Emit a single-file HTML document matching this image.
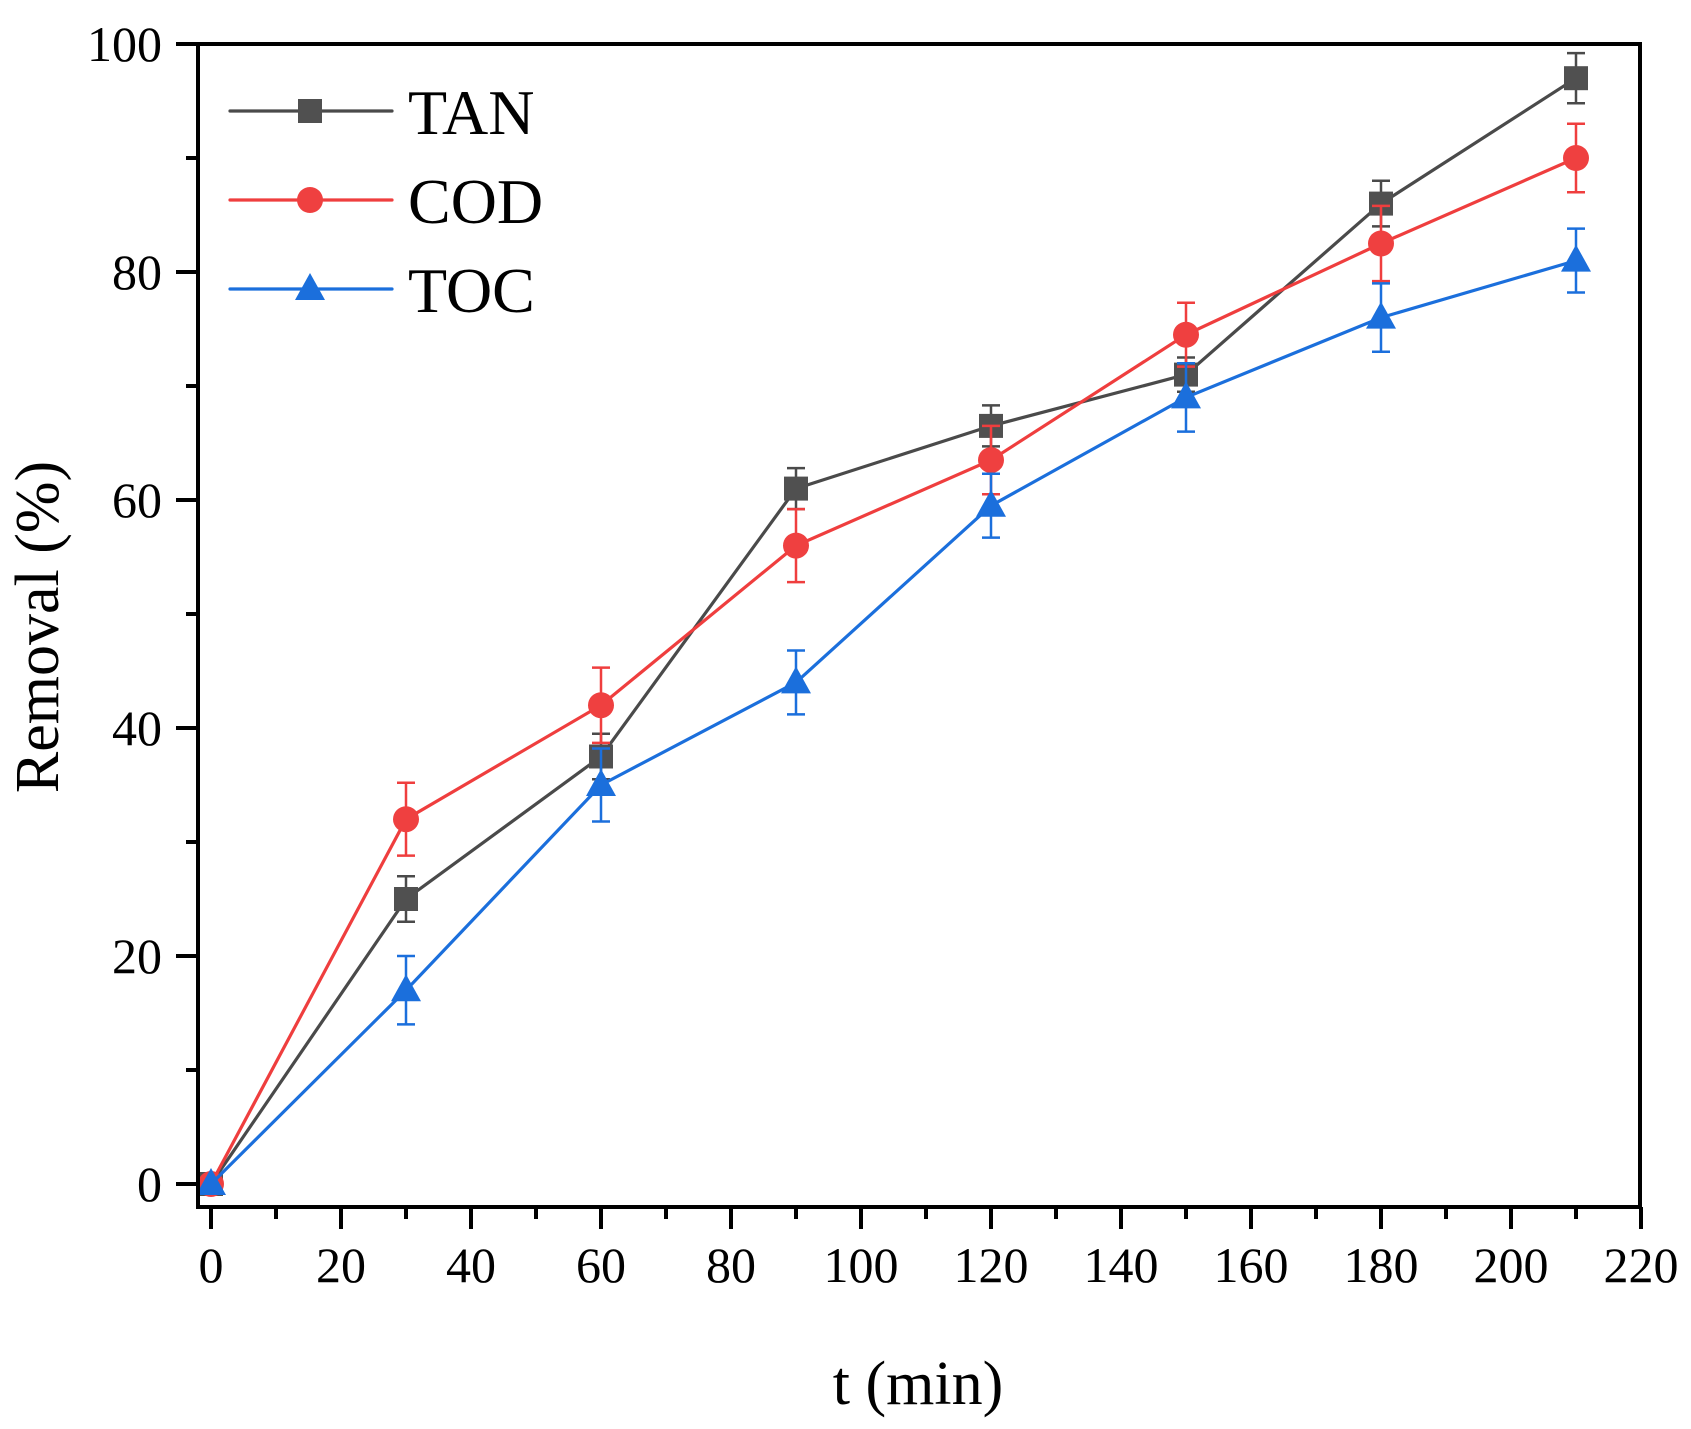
<!DOCTYPE html>
<html><head><meta charset="utf-8"><style>
html,body{margin:0;padding:0;background:#fff;}
svg{display:block;font-family:"Liberation Serif",serif;}
</style></head><body>
<svg id="chart" width="1691" height="1429" viewBox="0 0 1691 1429" xmlns="http://www.w3.org/2000/svg"></svg>
<script>
const times = [0,30,60,90,120,150,180,210];
const tanValues = [0,25,37.5,61,66.5,71,86,97];
const tanErrors = [0,2,2,1.8,1.8,1.5,2,2.2];
const codValues = [0,32,42,56,63.5,74.5,82.5,90];
const codErrors = [0,3.2,3.3,3.2,3,2.8,3.3,3];
const tocValues = [0,17,35,44,59.5,69,76,81];
const tocErrors = [0,3,3.2,2.8,2.8,3,3,2.8];
const xTickLabels = [0,20,40,60,80,100,120,140,160,180,200,220];
const yTickLabels = [0,20,40,60,80,100];

const L=198,R=1640,T=44,B=1207;
const X0=211, XS=6.5, Y0=1184, YS=11.4;
const sx=v=>X0+v*XS, sy=v=>Y0-v*YS;
const svg=document.getElementById('chart');
const NS='http://www.w3.org/2000/svg';
function mk(tag,attrs,parent){const e=document.createElementNS(NS,tag);for(const k in attrs)e.setAttribute(k,attrs[k]);(parent||svg).appendChild(e);return e;}

// ticks
for(let v=0;v<=220;v+=10){
  const major=v%20===0;
  const t=mk('line',{x1:sx(v),x2:sx(v),y1:B,y2:B+(major?22:12),stroke:'#000','stroke-width':4});
  
  
}
for(let v=0;v<=100;v+=10){
  const major=v%20===0;
  const t=mk('line',{x1:L-(major?22:12),x2:L,y1:sy(v),y2:sy(v),stroke:'#000','stroke-width':4});
  
  
}
xTickLabels.forEach(v=>{
  const t=mk('text',{x:sx(v),y:1282,'font-size':50,'text-anchor':'middle',fill:'#000'});
  t.textContent=v;
  
  
});
yTickLabels.forEach(v=>{
  const t=mk('text',{x:162,y:sy(v)+17,'font-size':50,'text-anchor':'end',fill:'#000'});
  t.textContent=v;
  
  
});

const series=[
  {name:'TAN',vals:tanValues,errs:tanErrors,color:'#4a4a4a',mcolor:'#505050',shape:'square'},
  {name:'COD',vals:codValues,errs:codErrors,color:'#ef3e3e',mcolor:'#ef4040',shape:'circle'},
  {name:'TOC',vals:tocValues,errs:tocErrors,color:'#1b6fdc',mcolor:'#1b6fdc',shape:'triangle'}
];
function marker(shape,x,y,color,g){
  let m;
  if(shape==='square') m=mk('rect',{x:x-12,y:y-12,width:24,height:24,fill:color},g);
  else if(shape==='circle') m=mk('circle',{cx:x,cy:y,r:13,fill:color},g);
  else m=mk('polygon',{points:`${x},${y-16} ${x+15},${y+11} ${x-15},${y+11}`,fill:color},g);
  return m;
}
series.forEach(s=>{
  const g=mk('g',{});
  
  
  s.vals.forEach((v,i)=>{
    const e=s.errs[i]; if(!e) return;
    const x=sx(times[i]);
    const eb=mk('path',{d:`M${x},${sy(v-e)}V${sy(v+e)}M${x-9},${sy(v+e)}H${x+9}M${x-9},${sy(v-e)}H${x+9}`,stroke:s.color,'stroke-width':2.5,fill:'none'},g);
    
    
  });
  const pl=mk('polyline',{points:s.vals.map((v,i)=>sx(times[i])+','+sy(v)).join(' '),fill:'none',stroke:s.color,'stroke-width':3.2},g);
  
  
  s.vals.forEach((v,i)=>{
    const m=marker(s.shape,sx(times[i]),sy(v),s.mcolor,g);
    
    
  });
});

// frame
const fr=mk('rect',{x:L,y:T,width:R-L,height:B-T,fill:'none',stroke:'#000','stroke-width':4});



// legend
series.forEach((s,i)=>{
  const y=111+i*89;
  const g=mk('g',{});
  
  
  mk('line',{x1:230,x2:392,y1:y,y2:y,stroke:s.color,'stroke-width':3.2,'stroke-linecap':'round'},g);
  marker(s.shape,310,y,s.mcolor,g);
  const t=mk('text',{x:408,y:y+23,'font-size':64,fill:'#000'},g);
  t.textContent=s.name;
});

const xt=mk('text',{x:918,y:1404,'font-size':62,'text-anchor':'middle',fill:'#000'});
xt.textContent='t (min)';


const yt=mk('text',{x:0,y:0,'font-size':62,'text-anchor':'middle',fill:'#000',transform:'translate(58,627) rotate(-90)'});
yt.textContent='Removal (%)';


</script>
</body></html>
